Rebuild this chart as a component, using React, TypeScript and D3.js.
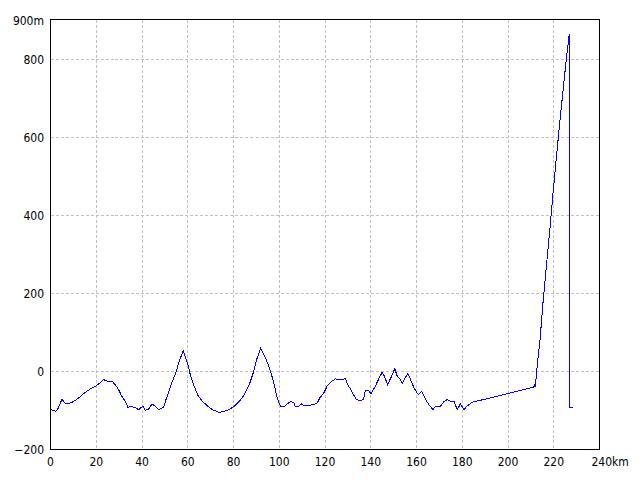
import React from "react";
import * as d3 from "d3";

const distanceKm: number[] = [
  0, 1.3, 2.3, 3.2, 4.3, 5.0, 6.4, 7.9, 10.1, 12.3, 14.5, 15.9, 17.4, 19.6, 21.8, 23.2, 24.7, 26.9, 28.3, 29.8,
  31.2, 32.7, 33.9, 34.9, 37.1, 38.5, 40.4, 41.5, 42.9, 44.4, 45.9, 47.3, 49.5, 50.5, 51.8, 53.3, 54.8, 56.2,
  58.0, 58.9, 59.9, 61.3, 62.8, 64.3, 66.5, 68.7, 70.8, 73.8, 76.0, 78.1, 80.3, 82.5, 84.7, 86.9, 88.6, 90.1,
  91.9, 92.6, 94.1, 96.2, 97.6, 99.1, 100.5, 102.0, 103.5, 104.9, 106.4, 107.1, 108.5, 109.6, 110.7, 112.9,
  115.1, 116.6, 117.7, 119.5, 120.9, 122.4, 124.5, 126.7, 128.9, 130.3, 131.4, 132.5, 133.7, 135.5, 136.9,
  137.6, 139.1, 140.1, 142.0, 143.5, 145.0, 146.0, 147.4, 148.9, 150.5, 151.5, 152.7, 153.8, 155.2, 156.2,
  157.4, 158.9, 160.8, 162.2, 164.0, 165.4, 167.2, 168.3, 170.5, 172.0, 173.5, 174.9, 176.4, 177.8, 179.2,
  180.7, 182.1, 184.2, 193.0, 203.2, 211.3, 211.6, 212.0, 212.5, 214.0, 215.4, 216.9, 218.4, 219.8, 221.3,
  222.7, 224.2, 225.7, 226.4, 226.8, 226.8, 228.3,
];

const elevationM: number[] = [
  -98, -100, -102, -96, -81, -72, -81, -83, -77, -68, -57, -51, -45, -38, -29, -21, -25, -25, -34, -47,
  -64, -77, -93, -89, -93, -98, -89, -100, -96, -84, -89, -98, -91, -72, -51, -25, -4, 25,
  53, 38, 21, -13, -38, -60, -77, -89, -98, -105, -102, -98, -89, -77, -60, -34, -4, 30,
  60, 51, 34, 0, -29, -68, -89, -91, -83, -77, -81, -91, -89, -83, -88, -87,
  -85, -81, -68, -55, -38, -28, -19, -21, -19, -38, -47, -60, -72, -75, -71,
  -49, -49, -57, -38, -19, -2, -13, -34, -15, 7, -11, -19, -30, -15, -5,
  -21, -42, -60, -51, -72, -85, -98, -89, -89, -77, -72, -77, -77, -98, -83,
  -98, -89, -79, -67, -52, -40, -35, -38, 0, 81, 183, 277, 370, 464, 557,
  642, 727, 812, 845, 865, -93, -93,
];

const xTicks: number[] = [0, 20, 40, 60, 80, 100, 120, 140, 160, 180, 200, 220, 240];
const yTicks: number[] = [-200, 0, 200, 400, 600, 800, 900];

const W = 640;
const H = 480;
const L = 50.5;
const R = 599.5;
const T = 19.5;
const B = 449.5;

export default function App() {
  const x = d3.scaleLinear().domain([0, 240]).range([L, R]);
  const y = d3.scaleLinear().domain([-200, 900]).range([B, 20]);
  const pts: [number, number][] = distanceKm.map((d, i) => [d, elevationM[i]]);
  const line = d3
    .line<[number, number]>()
    .x((d) => x(d[0]))
    .y((d) => y(d[1]));
  const font = "'Liberation Sans Narrow', 'DejaVu Sans Condensed', 'Liberation Sans', sans-serif";

  return (
    <svg
      width={W}
      height={H}
      style={{ position: "absolute", left: 0, top: 0, background: "#fff" }}
      fontFamily={font}
      fontSize={12}
    >
      <rect x={0} y={0} width={W} height={H} fill="#fff" />
      {xTicks
        .filter((t) => t > 0 && t < 240)
        .map((t) => (
          <line
            key={"gx" + t}
            x1={Math.round(x(t) - 0.5) + 0.5}
            x2={Math.round(x(t) - 0.5) + 0.5}
            y1={T}
            y2={B}
            stroke="#c0c0c0"
            strokeDasharray="3,2"
            shapeRendering="crispEdges"
          />
        ))}
      {yTicks
        .filter((t) => t > -200 && t < 900)
        .map((t) => (
          <line
            key={"gy" + t}
            x1={L}
            x2={R}
            y1={Math.round(y(t) - 0.5) + 0.5}
            y2={Math.round(y(t) - 0.5) + 0.5}
            stroke="#c0c0c0"
            strokeDasharray="3,2"
            shapeRendering="crispEdges"
          />
        ))}
      <rect
        x={L}
        y={T}
        width={R - L}
        height={B - T}
        fill="none"
        stroke="#000"
        strokeWidth={1}
        shapeRendering="crispEdges"
      />
      <path
        d={line(pts) || ""}
        fill="none"
        stroke="#0000ff"
        strokeWidth={1}
        shapeRendering="crispEdges"
      />
      {xTicks.map((t) =>
        t === 240 ? (
          <text key={"tx" + t} x={x(t) - 8} y={466} textAnchor="start" fill="#000">
            240km
          </text>
        ) : (
          <text key={"tx" + t} x={x(t)} y={466} textAnchor="middle" fill="#000">
            {t}
          </text>
        )
      )}
      {yTicks.map((t) => (
        <text key={"ty" + t} x={44} y={y(t) + 4.5} textAnchor="end" fill="#000">
          {t === 900 ? "900m" : t === -200 ? "\u2212200" : String(t)}
        </text>
      ))}
    </svg>
  );
}
